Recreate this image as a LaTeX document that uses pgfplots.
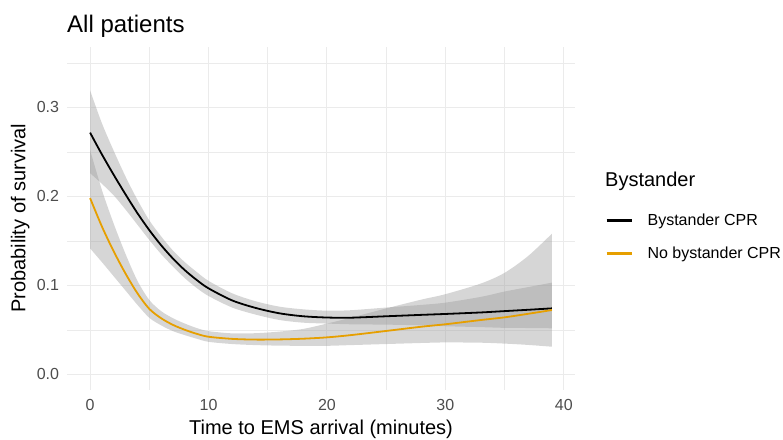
\documentclass[border=0pt]{standalone}
\usepackage{fontspec}
\setmainfont{Liberation Sans}
\usepackage{pgfplots}
\usepackage{pgfplotstable}
\pgfplotsset{compat=1.18}
\usepgfplotslibrary{fillbetween}
\definecolor{gridc}{HTML}{EBEBEB}
\definecolor{tickc}{HTML}{4D4D4D}
\definecolor{orangec}{HTML}{E69F00}
\definecolor{bandc}{HTML}{999999}

\pgfplotstableread{
x y
0 0.2715
1 0.247
2 0.224
3 0.202
4 0.181
5 0.162
6 0.145
7 0.130
8 0.117
9 0.106
10 0.0966
12 0.083
14 0.0745
16 0.0685
18 0.0652
20 0.0638
22 0.0636
25 0.0652
28 0.0668
30 0.0678
33 0.0695
35 0.0710
37 0.0725
39 0.0741
}\blackline

\pgfplotstableread{
x y
0 0.198
1 0.166
2 0.138
3 0.113
4 0.091
5 0.0735
6 0.063
7 0.0555
8 0.0500
9 0.0455
10 0.0422
12 0.0398
14 0.0390
16 0.0392
18 0.0400
20 0.0415
22 0.0440
25 0.0487
28 0.0535
30 0.0562
33 0.0610
35 0.0640
37 0.0680
39 0.0722
}\orangeline

\pgfplotstableread{
x lo hi
0 0.226 0.319
1 0.214 0.282
2 0.201 0.251
3 0.185 0.222
4 0.168 0.196
5 0.151 0.173
6 0.135 0.155
7 0.121 0.139
8 0.108 0.126
9 0.097 0.115
10 0.088 0.105
12 0.075 0.091
14 0.067 0.082
16 0.061 0.076
18 0.058 0.073
20 0.0570 0.0715
22 0.0562 0.0720
25 0.0558 0.0750
28 0.0550 0.0780
30 0.0540 0.0805
33 0.0530 0.0870
35 0.0522 0.0930
37 0.0520 0.0980
39 0.0517 0.1030
}\blackband

\pgfplotstableread{
x lo hi
0 0.1415 0.252
1 0.126 0.207
2 0.110 0.169
3 0.094 0.135
4 0.078 0.105
5 0.0635 0.0835
6 0.055 0.071
7 0.0485 0.063
8 0.044 0.057
9 0.040 0.052
10 0.0365 0.0485
12 0.0340 0.0460
14 0.0328 0.0462
16 0.0322 0.0480
18 0.0320 0.0510
20 0.0320 0.0570
22 0.0328 0.0635
25 0.0340 0.0740
28 0.0352 0.0840
30 0.0358 0.0900
33 0.0355 0.1020
35 0.0345 0.1140
37 0.0330 0.1330
39 0.0310 0.1580
}\orangeband

\begin{document}
\begin{tikzpicture}
\begin{axis}[
  at={(67pt,49pt)}, anchor=south west,
  scale only axis, width=508pt, height=343.3pt,
  xmin=-1.95, xmax=40.95, ymin=-0.01764, ymax=0.3681,
  /pgf/number format/assume math mode=true,
  axis line style={draw=none},
  xtick={0,10,20,30,40}, minor xtick={5,15,25,35},
  ytick={0,0.1,0.2,0.3}, minor ytick={0.05,0.15,0.25,0.35},
  grid=both,
  major grid style={draw=gridc, line width=1.1pt},
  minor grid style={draw=gridc, line width=0.6pt},
  major tick length=0pt, minor tick length=0pt,
  tick style={draw=none},
  ticklabel style={font=\fontsize{16}{19}\selectfont, text=tickc},
  yticklabel style={/pgf/number format/.cd, fixed, fixed zerofill, precision=1, /tikz/.cd, xshift=-4.4pt},
  xticklabel style={yshift=-5.4pt},
  xlabel={Time to EMS arrival (minutes)},
  every axis x label/.style={at={(axis description cs:0.5,0)}, anchor=base, yshift=-44pt, font=\fontsize{20}{24}\selectfont},
  ylabel={Probability of survival},
  every axis y label/.style={at={(axis description cs:-0.0817,0.5)}, anchor=base, rotate=90, font=\fontsize{20}{24}\selectfont},
  title={All patients},
  every axis title/.style={at={(axis description cs:0,1.042)}, anchor=base west, inner sep=0pt, font=\fontsize{24}{29}\selectfont},
  legend style={at={(axis description cs:1.0600,0.5127)}, anchor=north west, draw=none, fill=none, inner sep=0pt, outer sep=0pt, font=\fontsize{16}{19}\selectfont, row sep=19.8pt, column sep=14.4pt, nodes={inner sep=0pt}},
  legend cell align=left,
  legend image code/.code={\draw[#1, line width=2.2pt] (0pt,0pt) -- (25.5pt,0pt);},
]
\addplot[name path=bhi, draw=none, smooth, forget plot] table[x=x, y=hi] {\blackband};
\addplot[name path=blo, draw=none, smooth, forget plot] table[x=x, y=lo] {\blackband};
\addplot[bandc, fill opacity=0.4, draw=none, forget plot] fill between[of=bhi and blo];
\addplot[black, line width=1.8pt, smooth] table[x=x, y=y] {\blackline};
\addlegendentry{Bystander CPR}
\addplot[name path=ohi, draw=none, smooth, forget plot] table[x=x, y=hi] {\orangeband};
\addplot[name path=olo, draw=none, smooth, forget plot] table[x=x, y=lo] {\orangeband};
\addplot[bandc, fill opacity=0.4, draw=none, forget plot] fill between[of=ohi and olo];
\addplot[orangec, line width=1.8pt, smooth] table[x=x, y=y] {\orangeline};
\addlegendentry{No bystander CPR}
\end{axis}
\node[anchor=base west, inner sep=0pt, font=\fontsize{20}{24}\selectfont] at (605pt,252.3pt) {Bystander};
\pgfresetboundingbox
\path[use as bounding box] (0pt,0pt) rectangle (783pt,439pt);
\end{tikzpicture}
\end{document}
